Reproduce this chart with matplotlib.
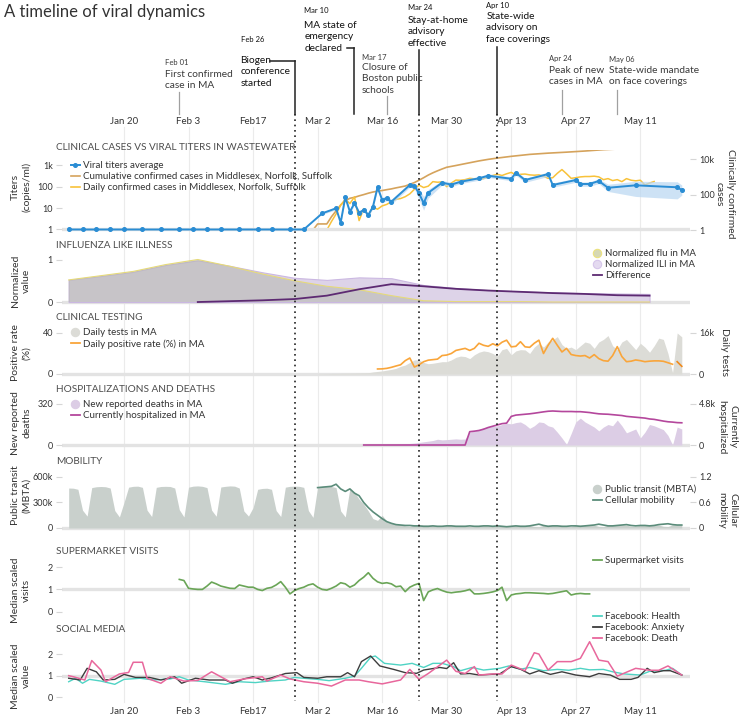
import numpy as np
import matplotlib
matplotlib.use('Agg')
import matplotlib.pyplot as plt
import matplotlib.ticker as mticker
from matplotlib.lines import Line2D

plt.rcParams['font.family'] = ['Lato', 'DejaVu Sans']

# ---------------- data (x = day of year 2020) ----------------
tick_days = [20, 34, 48, 62, 76, 90, 104, 118, 132]
tick_labels = ['Jan 20', 'Feb 3', 'Feb17', 'Mar 2', 'Mar 16', 'Mar 30', 'Apr 13', 'Apr 27', 'May 11']

# wastewater titers
titer_days = [8, 11, 14, 17, 20, 24, 28, 32, 35, 38, 41, 45, 49, 52, 56, 59,
              63, 66, 67, 68, 69, 70, 71, 72, 73, 74, 75, 76, 77, 78, 82, 83, 84, 85, 86, 89,
              91, 93, 97, 99, 104, 105, 107, 112, 113, 118, 119, 121, 123, 125, 131, 140, 141]
titer_vals = [1, 1, 1, 1, 1, 1, 1, 1, 1, 1, 1, 1, 1, 1, 1, 1,
              5.7, 9.8, 2.1, 32, 6.8, 17, 6.1, 8.2, 4.8, 11.6, 94, 24, 29, 20, 120, 108, 49, 17, 52, 154,
              125, 170, 247, 325, 235, 450, 205, 390, 120, 205, 134, 134, 185, 89, 116, 94, 70]
band_days = titer_days[16:]
titer_low = [5, 8.5, 1.8, 26, 5.5, 14, 5, 6.8, 4, 9.5, 75, 18, 22, 15, 95, 80, 25, 8, 30, 120,
             100, 140, 200, 270, 190, 340, 160, 300, 95, 160, 105, 105, 140, 60, 35, 27, 40]
titer_high = [6.5, 11.5, 2.5, 40, 8.5, 21, 7.5, 10, 6, 14, 115, 32, 38, 26, 150, 140, 80, 35, 75, 195,
              160, 210, 300, 400, 290, 560, 250, 480, 150, 250, 165, 170, 230, 130, 180, 170, 120]

cum_days = [61, 62, 64, 65, 66, 67, 68, 69, 70, 71, 72, 73, 74, 75, 76, 77, 78, 79, 80, 81, 82, 83, 84,
            85, 86, 87, 88, 89, 90, 92, 94, 97, 99, 101, 104, 108, 112, 116, 120, 124, 128, 131, 134]
cum_cases = [1, 2.2, 2.2, 5.6, 12, 26, 45, 62, 70, 85, 100, 120, 140, 155, 170, 190, 210, 240, 270, 305,
             380, 480, 650, 900, 1270, 1700, 2200, 2800, 3500, 4400, 5600, 8000, 9800, 11600, 14500,
             18700, 22000, 25000, 29000, 34500, 38500, 41500, 44000]

daily_start = 64
daily_cases = [1, 3, 8, 25, 55, 31, 75, 3.4, 16, 7,
               19, 15, 23, 28, 40, 54, 60, 76, 110, 200,
               345, 250, 300, 540, 500, 520, 280, 450, 660, 640,
               700, 830, 780, 700, 800, 1000, 1200, 1400, 1200, 1500,
               1800, 1300, 1400, 1450, 1300, 1250, 1300, 1100, 830, 900,
               1600, 2600, 1500, 830, 900, 1000, 1050, 1050, 1100, 1000,
               700, 800, 620, 700, 540, 800, 650, 600, 650, 350,
               450, 550]

# influenza like illness (weekly)
flu_days = [8, 15, 22, 29, 36, 43, 50, 57, 64, 71, 78, 85, 92, 99, 106, 113, 120, 127, 134]
flu = [0.52, 0.62, 0.72, 0.88, 1.0, 0.84, 0.66, 0.5, 0.37, 0.29, 0.15, 0.03, 0.01, 0.01, 0.01, 0, 0, 0, 0]
ili = [0.52, 0.61, 0.71, 0.87, 0.98, 0.85, 0.7, 0.57, 0.52, 0.58, 0.56, 0.4, 0.33, 0.28, 0.25, 0.23, 0.21, 0.2, 0.19]
diff_days = [36, 43, 50, 57, 64, 71, 78, 85, 92, 99, 106, 113, 120, 127, 134]
diff = [0.0, 0.02, 0.04, 0.07, 0.15, 0.3, 0.42, 0.37, 0.31, 0.27, 0.24, 0.21, 0.19, 0.16, 0.15]

# clinical testing
tests_start = 62
tests_k = [0.1, 0.1, 0.15, 0.2, 0.2, 0.25, 0.3, 0.3, 0.35, 0.4,
           0.45, 0.5, 0.8, 1.0, 1.2, 1.5, 1.8, 2.2, 3.0, 3.5,
           4.5, 5.5, 5.5, 4.5, 4.0, 4.2, 4.5, 4.8, 4.8, 5.5,
           6.5, 7.0, 6.8, 6.0, 7.5, 8.5, 9.0, 8.7, 8.0, 7.0,
           9.5, 10.0, 7.5, 9.0, 9.5, 9.4, 8.0, 10.5, 12.0, 10.5,
           12.5, 13.3, 14.6, 11.5, 10.0, 10.5, 9.5, 11.0, 12.5, 12.0,
           10.0, 12.5, 13.5, 15.0, 11.0, 9.5, 12.5, 13.5, 11.5, 9.5,
           12.0, 10.5, 8.5, 11.0, 14.0, 13.5, 8.0, 0.5, 16.0, 14.5]
rate_start = 75
pos_rate = [4.9, 5, 5.5, 6.5, 7.8, 9, 13, 15.6, 6.8, 9,
            12, 13.5, 14, 14.5, 18, 18.5, 20, 23, 24, 25,
            23, 25, 30, 28, 27, 29.5, 27.5, 31, 33, 26.5,
            27, 31.5, 26.5, 26, 30, 33, 20, 28, 34.8, 28,
            21.5, 25, 19, 18, 17.5, 18, 15.6, 18.9, 15, 13,
            12.5, 18, 26.7, 17, 12, 12.5, 13.7, 13, 12, 12.5,
            12.8, 12.8, 12.4, 11, 9.5]
rate_tail_days = [140, 141]
rate_tail = [12, 7.5]

# hospitalizations and deaths
hosp_start = 72
hosp_k = [0, 0, 0, 0, 0, 0, 0, 0, 0, 0, 0, 0, 0, 0, 0, 0, 0, 0, 0, 0, 0, 0, 0,
          1.56, 1.62, 1.7, 1.85, 2.05, 2.2, 2.35, 2.5, 2.56, 3.35,
          3.5, 3.55, 3.6, 3.65, 3.72, 3.8, 3.88, 3.95, 3.98, 3.95,
          3.92, 3.92, 3.92, 3.9, 3.9, 3.85, 3.8, 3.72, 3.65, 3.62,
          3.6, 3.55, 3.5, 3.45, 3.35, 3.3, 3.25, 3.2, 3.15, 3.05,
          3.0, 2.9, 2.8, 2.72, 2.68, 2.62, 2.6]
deaths_start = 75
deaths = [2, 3, 4, 5, 6, 8, 10, 12, 15, 20,
          25, 30, 35, 45, 40, 42, 45, 48, 45, 47,
          100, 110, 120, 135, 140, 145, 150, 160, 170, 165,
          175, 180, 160, 130, 150, 180, 175, 150, 140, 100,
          55, 5, 90, 180, 210, 180, 160, 140, 110, 140,
          160, 150, 195, 150, 95, 110, 125, 55, 100, 160,
          150, 135, 120, 75, 0, 140, 125]

# mobility
transit_start = 8
transit_k = [470, 468, 455, 210, 140,
             475, 485, 488, 485, 470, 205, 130,
             300, 480, 490, 492, 478, 210, 135,
             478, 488, 490, 488, 470, 215, 130,
             480, 492, 495, 490, 475, 210, 138,
             482, 490, 495, 492, 470, 200, 140,
             240, 455, 465, 468, 455, 205, 135,
             480, 490, 492, 490, 478, 205, 125,
             482, 490, 492, 488, 475, 200, 130,
             466, 420, 340, 280, 200, 110, 90,
             150, 80, 60, 45, 40, 25, 20,
             38, 36, 35, 34, 33, 18, 15,
             33, 32, 32, 31, 30, 17, 14,
             32, 31, 31, 30, 30, 17, 14,
             31, 31, 32, 31, 30, 18, 15,
             32, 32, 33, 32, 31, 18, 15,
             33, 33, 33, 34, 33, 19, 16,
             34, 34, 35, 35, 34, 20, 17,
             35, 36, 36, 36, 35, 20, 17,
             37, 37, 37]
cell_start = 62
cellular = [0.95, 0.96, 0.97, 0.98, 1.03, 0.92, 0.86, 0.92, 0.82, 0.76,
            0.6, 0.48, 0.38, 0.3, 0.22, 0.15, 0.11, 0.08, 0.07, 0.06,
            0.06, 0.05, 0.05, 0.04, 0.04, 0.05, 0.04, 0.04, 0.05, 0.05,
            0.04, 0.04, 0.04, 0.05, 0.04, 0.04, 0.05, 0.05, 0.04, 0.05,
            0.04, 0.03, 0.04, 0.05, 0.04, 0.04, 0.05, 0.07, 0.09, 0.06,
            0.04, 0.05, 0.05, 0.04, 0.04, 0.05, 0.05, 0.04, 0.05, 0.06,
            0.07, 0.09, 0.07, 0.05, 0.05, 0.06, 0.07, 0.08, 0.06, 0.05,
            0.06, 0.06, 0.05, 0.06, 0.08, 0.09, 0.1, 0.08, 0.07, 0.07]

# supermarket visits
market_start = 32
market = [1.45, 1.4, 1.05, 1.02, 1.0, 1.0, 1.15, 1.33, 1.25, 1.15,
          1.1, 1.05, 1.04, 1.2, 1.15, 1.1, 1.1, 1.0, 0.95, 1.05,
          1.09, 1.2, 1.35, 1.1, 0.8, 0.95, 1.04, 1.1, 1.2, 1.25,
          1.1, 1.0, 0.97, 1.05, 1.15, 1.3, 1.25, 1.1, 1.2, 1.4,
          1.55, 1.75, 1.5, 1.34, 1.27, 1.3, 1.25, 1.12, 1.15, 0.9,
          1.1, 1.2, 1.27, 0.5, 0.89, 0.98, 1.04, 0.95, 0.88, 0.85,
          0.88, 0.9, 0.94, 1.0, 0.8, 0.8, 0.82, 0.85, 0.89, 0.95,
          1.1, 0.5, 0.75, 0.8, 0.82, 0.85, 0.85, 0.84, 0.83, 0.82,
          0.8, 0.82, 0.86, 0.9, 0.94, 0.75, 0.8, 0.82, 0.8, 0.8]

# social media
health_days = [8, 9.5, 11, 12.5, 15, 18, 20, 23.5, 26.5, 30, 32, 34, 37.5, 42, 45, 48.5, 51.5, 55, 57, 59,
               62, 64.5, 68, 70, 71.5, 73.5, 74.5, 76.5, 80, 82.5, 85, 87, 89, 91.5, 93, 95.5, 98, 101.5,
               103.5, 106, 108, 111, 114, 116.5, 119, 121, 124, 126, 128.5, 132, 134, 137.5, 139, 141]
health = [0.72, 0.88, 0.65, 0.83, 0.75, 0.6, 0.83, 0.88, 0.8, 0.85, 0.95, 0.8, 0.72, 0.6, 0.72, 0.68, 0.75,
          0.8, 0.92, 0.88, 0.83, 0.77, 0.88, 0.98, 1.34, 1.85, 1.91, 1.57, 1.49, 1.57, 1.38, 1.57, 1.57,
          1.42, 1.23, 1.38, 1.26, 1.34, 1.45, 1.3, 1.38, 1.23, 1.29, 1.25, 1.34, 1.27, 1.29, 1.18, 1.08,
          1.03, 1.2, 1.25, 1.34, 1.03]
anx_days = [8, 10.5, 12, 14, 15.5, 18, 20, 22.5, 25.5, 28, 31, 32.5, 35.5, 38.5, 42, 43.5, 46, 48, 50, 52,
            55, 57.5, 59, 62, 64, 67, 68.5, 70, 71.5, 73.5, 75.5, 78.5, 81, 83.5, 85, 88.5, 90, 91.5, 93,
            95, 97, 99.5, 101.5, 104, 106, 108, 110, 112.5, 115, 118, 121, 123, 125.5, 127.5, 130, 131.5,
            133.5, 135, 137, 138.5, 141]
anxiety = [0.88, 0.8, 1.34, 1.18, 0.8, 0.83, 1.06, 0.92, 0.92, 0.8, 0.95, 0.65, 0.88, 0.8, 0.8, 0.65, 0.85,
           0.95, 0.8, 0.9, 1.1, 1.14, 0.92, 0.88, 0.95, 0.95, 1.14, 0.95, 1.65, 1.91, 1.45, 1.29, 1.14,
           1.11, 1.26, 1.38, 1.33, 1.6, 1.08, 1.1, 1.03, 1.06, 1.08, 1.42, 1.3, 1.08, 1.23, 1.06, 1.18,
           1.03, 0.95, 1.1, 1.03, 0.83, 0.83, 0.92, 1.34, 1.14, 1.23, 1.23, 1.03]
death_days = [8, 9, 11.5, 13, 15, 16, 19, 21, 22, 24, 25, 28, 30, 33, 36, 39, 41, 43, 46, 50, 51, 54, 56,
              59, 62, 65, 68, 71, 73, 76, 80, 82, 84, 86, 90, 92, 94, 96, 97, 100, 102, 104, 107, 109,
              110, 112, 114, 117, 119, 121, 123, 125, 127, 131, 134, 136, 138, 141]
death = [1.0, 0.95, 0.8, 1.7, 1.26, 0.72, 1.08, 1.15, 1.62, 1.62, 0.88, 0.65, 0.95, 0.75, 0.78, 1.18, 0.95,
         0.72, 0.85, 0.95, 0.75, 1.03, 0.85, 0.72, 0.65, 0.52, 0.8, 0.8, 0.72, 0.62, 0.8, 1.29, 0.83, 1.1,
         1.72, 1.2, 1.1, 1.42, 1.03, 1.08, 1.08, 1.49, 1.23, 2.06, 2.0, 1.26, 1.65, 1.65, 1.8, 2.57, 1.72,
         1.65, 0.98, 1.34, 1.25, 1.25, 1.45, 1.03]

# timeline events: day, date label, text, highlighted
event_days = [32, 57, 70, 77, 84, 101, 115, 127]
event_dates = ['Feb 01', 'Feb 26', 'Mar 10', 'Mar 17', 'Mar 24', 'Apr 10', 'Apr 24', 'May 06']
event_texts = [['First confirmed', 'case in MA'], ['Biogen', 'conference', 'started'],
               ['MA state of', 'emergency', 'declared'], ['Closure of', 'Boston public', 'schools'],
               ['Stay-at-home', 'advisory', 'effective'], ['State-wide', 'advisory on', 'face coverings'],
               ['Peak of new', 'cases in MA'], ['State-wide mandate', 'on face coverings']]
event_dark = [False, True, True, False, True, True, False, False]
dotted_days = [57, 84, 101]

# ---------------- layout (pixels) ----------------
W, H = 740, 718
X0, X1 = 62, 690
DAY0, DAY1 = 6.55, 142.78
PXD = (X1 - X0) / (DAY1 - DAY0)
LINE_H = 11.4

# text x offset (px), date baseline, first text baseline, connector top, elbow start (px)
ev_layout = [(-14, 65, 77, 92, None), (-54, 42, 63, 61, -25), (-50, 13, 28, 48, -7),
             (-25, 60, 70, 96, None), (-11, 10, 23, 50, None), (-11, 8, 19, 47, None),
             (-13, 61, 73, 90, None), (-8, 62, 73, 90, None)]

GRAY = '#e3e3e3'
TXT = '#333333'

fig = plt.figure(figsize=(W / 100, H / 100), dpi=100)


def rect(top, bottom):
    return [X0 / W, 1 - bottom / H, (X1 - X0) / W, (bottom - top) / H]


def style(ax):
    ax.patch.set_visible(False)
    for s in ax.spines.values():
        s.set_visible(False)
    ax.set_xlim(DAY0, DAY1)
    ax.set_xticks([])
    ax.tick_params(axis='y', length=4.5, width=0.8, color='#d6d6d6', labelsize=6.5,
                   labelcolor=TXT, pad=2)
    ax.yaxis.set_minor_locator(mticker.NullLocator())


def ylab(text, y, x=21, rot=90):
    fig.text(x / W, 1 - y / H, text, rotation=rot, ha='center', va='center',
             fontsize=7.5, color=TXT, linespacing=1.3)


def title(text, y):
    fig.text(56 / W, 1 - y / H, text, ha='left', va='center', fontsize=7.2, color='#4d4d4d')


def legend(ax, handles, labels, x, y):
    ax.legend(handles, labels, loc='upper left', bbox_to_anchor=(x / W, 1 - y / H),
              bbox_transform=fig.transFigure, frameon=False, fontsize=7, handlelength=0.9,
              handletextpad=0.3, labelspacing=0.22, borderpad=0, borderaxespad=0, labelcolor=TXT)


def dot(color, edge=None):
    return Line2D([], [], marker='o', ls='none', ms=6, mfc=color, mec=edge or color, mew=0.8)


# background: gridlines
bg = fig.add_axes([X0 / W, 0, (X1 - X0) / W, 1])
bg.set_xlim(DAY0, DAY1)
bg.set_ylim(H, 0)
bg.axis('off')
for d in tick_days:
    bg.plot([d, d], [127, 702], color='#ebebeb', lw=0.8)

fig.text(4 / W, 1 - 12 / H, 'A timeline of viral dynamics', fontsize=12, color=TXT,
         ha='left', va='center')

# ---- panel 1: clinical cases vs viral titers
axc = fig.add_axes(rect(150, 233))
style(axc)
axt = axc.twinx()
style(axt)
axc.set_yscale('log')
axc.set_ylim(0.677, 33100)
axc.yaxis.tick_right()
axc.set_yticks([1, 100, 10000])
axc.set_yticklabels(['1', '100', '10k'])
axc.yaxis.set_minor_locator(mticker.NullLocator())
axc.plot(cum_days, cum_cases, color='#d5a35c', lw=1.2)
axc.plot(np.arange(daily_start, daily_start + len(daily_cases)), daily_cases, color='#f8c23a', lw=1.1)
axt.yaxis.tick_left()
axt.set_yscale('log')
axt.set_ylim(0.686, 5190)
axt.set_yticks([1, 10, 100, 1000])
axt.set_yticklabels(['1', '10', '100', '1k'])
axt.yaxis.set_minor_locator(mticker.NullLocator())
axt.axhline(1, color=GRAY, lw=2.4, zorder=0)
axt.fill_between(band_days, titer_low, titer_high, color='#b9d7f2', alpha=0.7, lw=0)
axt.plot(titer_days, titer_vals, color='#2a8dd4', lw=1.4, marker='o', ms=2.6)
legend(axt, [Line2D([], [], color='#2a8dd4', lw=1.4, marker='o', ms=2.6),
             Line2D([], [], color='#d5a35c', lw=1.2), Line2D([], [], color='#f8c23a', lw=1.2)],
       ['Viral titers average', 'Cumulative confirmed cases in Middlesex, Norfolk, Suffolk',
        'Daily confirmed cases in Middlesex, Norfolk, Suffolk'], 71, 161)
title('CLINICAL CASES VS VIRAL TITERS IN WASTEWATER', 148)
ylab('Titers\n(copies/ml)', 187)
ylab('Clinically confirmed\ncases', 194, x=725, rot=270)

# ---- panel 2: influenza like illness
ax2 = fig.add_axes(rect(253, 305))
style(ax2)
ax2.set_ylim(-0.07, 1.153)
ax2.set_yticks([0, 1])
ax2.axhline(0, color=GRAY, lw=2.4, zorder=0)
ax2.fill_between(flu_days, 0, ili, facecolor='#ddd3e8', edgecolor='#cbb8e2', lw=0.8)
ax2.fill_between(flu_days, 0, flu, facecolor='#b3b7aa', alpha=0.5, lw=0)
ax2.plot(flu_days, flu, color='#e6da7a', lw=0.8)
ax2.plot(diff_days, diff, color='#5d2a72', lw=1.3)
legend(ax2, [dot('#d6d8b4', '#ece27e'), dot('#e4daf0', '#d6c6ea'), Line2D([], [], color='#5d2a72', lw=1.3)],
       ['Normalized flu in MA', 'Normalized ILI in MA', 'Difference'], 593, 249)
title('INFLUENZA LIKE ILLNESS', 246)
ylab('Normalized\nvalue', 281)

# ---- panel 3: clinical testing
ax3 = fig.add_axes(rect(325, 377))
style(ax3)
ax3r = ax3.twinx()
style(ax3r)
ax3.yaxis.tick_right()
ax3.set_ylim(-1.17, 19.12)
ax3.set_yticks([0, 16])
ax3.set_yticklabels(['0', '16k'])
ax3.axhline(0, color=GRAY, lw=2.4, zorder=0)
ax3.fill_between(np.arange(tests_start, tests_start + len(tests_k)), 0, tests_k, color='#dcdcd7', lw=0)
ax3r.yaxis.tick_left()
ax3r.set_ylim(-2.93, 47.8)
ax3r.set_yticks([0, 40])
ax3r.plot(np.arange(rate_start, rate_start + len(pos_rate)), pos_rate, color='#f9a53a', lw=1.2)
ax3r.plot(rate_tail_days, rate_tail, color='#f08a1c', lw=1.2)
legend(ax3r, [dot('#dcdcd7'), Line2D([], [], color='#f9a53a', lw=1.3)],
       ['Daily tests in MA', 'Daily positive rate (%) in MA'], 71, 328)
title('CLINICAL TESTING', 318)
ylab('Positive rate\n(%)', 353)
ylab('Daily tests', 352, x=724, rot=270)

# ---- panel 4: hospitalizations and deaths
ax4 = fig.add_axes(rect(396, 448))
style(ax4)
ax4r = ax4.twinx()
style(ax4r)
ax4.yaxis.tick_left()
ax4.set_ylim(-23.4, 382.4)
ax4.set_yticks([0, 320])
ax4.axhline(0, color=GRAY, lw=2.4, zorder=0)
ax4.fill_between(np.arange(deaths_start, deaths_start + len(deaths)), 0, deaths, color='#dccde5', lw=0)
ax4r.yaxis.tick_right()
ax4r.set_ylim(-0.351, 5.736)
ax4r.set_yticks([0, 4.8])
ax4r.set_yticklabels(['0', '4.8k'])
ax4r.plot(np.arange(hosp_start, hosp_start + len(hosp_k)), hosp_k, color='#b4479c', lw=1.2)
legend(ax4r, [dot('#dccde5'), Line2D([], [], color='#b4479c', lw=1.3)],
       ['New reported deaths in MA', 'Currently hospitalized in MA'], 71, 400)
title('HOSPITALIZATIONS AND DEATHS', 390)
ylab('New reported\ndeaths', 423)
ylab('Currently\nhospitalized', 427, x=727, rot=270)

# ---- panel 5: mobility
ax5 = fig.add_axes(rect(470, 531))
style(ax5)
ax5r = ax5.twinx()
style(ax5r)
ax5.yaxis.tick_left()
ax5.set_ylim(-35.3, 682)
ax5.set_yticks([0, 300, 600])
ax5.set_yticklabels(['0', '300k', '600k'])
ax5.axhline(0, color=GRAY, lw=2.4, zorder=0)
ax5.fill_between(np.arange(transit_start, transit_start + len(transit_k)), 0, transit_k,
                 color='#c9d0cc', lw=0)
ax5r.yaxis.tick_right()
ax5r.set_ylim(-0.0706, 1.364)
ax5r.set_yticks([0, 0.6, 1.2])
ax5r.set_yticklabels(['0', '0.6', '1.2'])
ax5r.plot(np.arange(cell_start, cell_start + len(cellular)), cellular, color='#5b8c7a', lw=1.2)
legend(ax5r, [dot('#c9d0cc'), Line2D([], [], color='#5b8c7a', lw=1.3)],
       ['Public transit (MBTA)', 'Cellular mobility'], 593, 485)
title('MOBILITY', 462)
ylab('Public transit\n(MBTA)', 495)
ylab('Cellular\nmobility', 510, x=727, rot=270)

# ---- panel 6: supermarket visits
ax6 = fig.add_axes(rect(560, 614))
style(ax6)
ax6.set_ylim(-0.103, 2.32)
ax6.set_yticks([0, 1, 2])
ax6.axhline(1, color=GRAY, lw=2.4, zorder=0)
ax6.plot(np.arange(market_start, market_start + len(market)), market, color='#6aa557', lw=1.2)
legend(ax6, [Line2D([], [], color='#6aa557', lw=1.3)], ['Supermarket visits'], 593, 556)
title('SUPERMARKET VISITS', 551)
ylab('Median scaled\nvisits', 590)

# ---- panel 7: social media
ax7 = fig.add_axes(rect(640, 700))
style(ax7)
ax7.set_ylim(-0.125, 2.65)
ax7.set_yticks([0, 1, 2])
ax7.axhline(1, color=GRAY, lw=2.4, zorder=0)
ax7.plot(health_days, health, color='#4fd3c4', lw=1.0)
ax7.plot(anx_days, anxiety, color='#3d3d3d', lw=1.0)
ax7.plot(death_days, death, color='#e8679c', lw=1.1)
legend(ax7, [Line2D([], [], color='#4fd3c4', lw=1.3), Line2D([], [], color='#3d3d3d', lw=1.3),
             Line2D([], [], color='#e8679c', lw=1.3)],
       ['Facebook: Health', 'Facebook: Anxiety', 'Facebook: Death'], 593, 612)
title('SOCIAL MEDIA', 629)
ylab('Median scaled\nvalue', 676)

# foreground: timeline, dotted lines, date labels
fg = fig.add_axes([X0 / W, 0, (X1 - X0) / W, 1])
fg.set_xlim(DAY0, DAY1)
fg.set_ylim(H, 0)
fg.axis('off')
fg.patch.set_visible(False)

for d, lab in zip(tick_days, tick_labels):
    fg.text(d, 122, lab, ha='center', va='center', fontsize=7, color=TXT)
    fg.text(d, 711, lab, ha='center', va='center', fontsize=7, color=TXT)

for d in dotted_days:
    fg.plot([d, d], [114, 701], color='#222222', lw=1.2, ls=(0, (1, 2.2)))

for d, date, lines, dark, lay in zip(event_days, event_dates, event_texts, event_dark, ev_layout):
    dx, y_date, y_txt, y_top, elbow = lay
    tcol = '#111111' if dark else '#3a3a3a'
    lcol = '#222222' if dark else '#a0a0a0'
    xt = d + dx / PXD
    fg.text(xt, y_date, date, fontsize=5.5, color=tcol, ha='left', va='baseline')
    for i, line in enumerate(lines):
        fg.text(xt, y_txt + i * LINE_H, line, fontsize=7.3, color=tcol, ha='left', va='baseline')
    if elbow is not None:
        fg.plot([d + elbow / PXD, d], [y_top, y_top], color=lcol, lw=1.1)
    fg.plot([d, d], [y_top, 114], color=lcol, lw=1.1 if dark else 0.9)

fig.savefig('out.png', dpi=100)
